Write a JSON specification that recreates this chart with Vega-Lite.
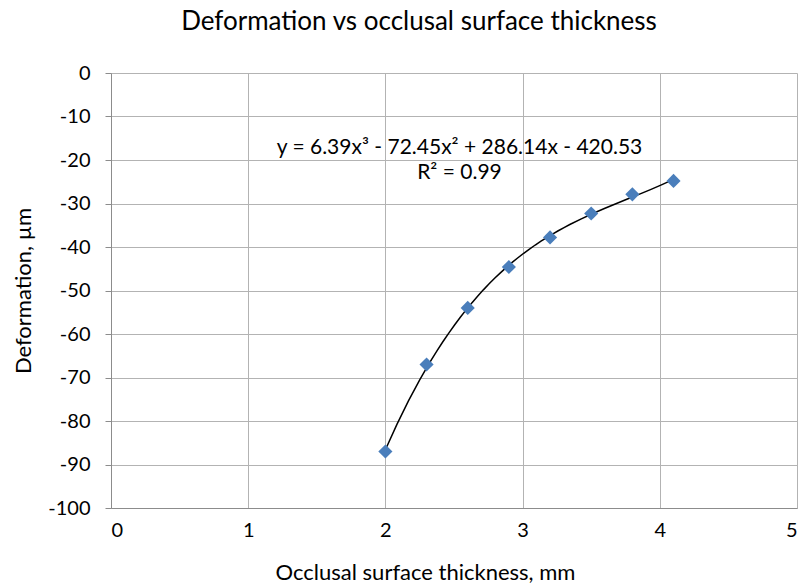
{
  "$schema": "https://vega.github.io/schema/vega-lite/v6.json",
  "width": 686,
  "height": 435,
  "autosize": {"type": "none"},
  "padding": {"left": 111, "top": 73, "right": 11, "bottom": 80},
  "background": "white",
  "title": {
    "text": "Deformation vs occlusal surface thickness",
    "font": "Lato",
    "fontSize": 26,
    "fontWeight": "normal",
    "color": "#000000",
    "anchor": "middle",
    "dx": -35,
    "offset": 28
  },
  "config": {
    "view": {"stroke": null},
    "axis": {
      "labelFont": "Lato",
      "titleFont": "Lato",
      "labelFontSize": 20,
      "titleFontSize": 22,
      "titleFontWeight": "normal",
      "labelColor": "#000000",
      "titleColor": "#000000",
      "gridColor": "#b3b3b3",
      "gridOpacity": 1,
      "domainColor": "#8c8c8c",
      "tickColor": "#8c8c8c"
    }
  },
  "data": {
    "values": [
      {"thickness": 2.0, "deformation": -87},
      {"thickness": 2.3, "deformation": -67},
      {"thickness": 2.6, "deformation": -54},
      {"thickness": 2.9, "deformation": -44.6},
      {"thickness": 3.2, "deformation": -37.8},
      {"thickness": 3.5, "deformation": -32.3},
      {"thickness": 3.8, "deformation": -27.9},
      {"thickness": 4.1, "deformation": -24.8}
    ]
  },
  "layer": [
    {
      "mark": {"type": "line", "color": "#000000", "strokeWidth": 1.5},
      "transform": [
        {"regression": "deformation", "on": "thickness", "method": "poly", "order": 3, "extent": [2, 4.1]}
      ],
      "encoding": {
        "x": {
          "field": "thickness", "type": "quantitative",
          "scale": {"domain": [0, 5], "nice": false},
          "axis": {
            "title": "Occlusal surface thickness, mm",
            "values": [0, 1, 2, 3, 4, 5],
            "labelExpr": "'' + datum.value",
            "ticks": false,
            "labelPadding": 12,
            "titlePadding": 22,
            "titleX": 314,
            "grid": true
          }
        },
        "y": {
          "field": "deformation", "type": "quantitative",
          "scale": {"domain": [-100, 0], "nice": false},
          "axis": {
            "title": "Deformation, µm",
            "values": [0, -10, -20, -30, -40, -50, -60, -70, -80, -90, -100],
            "labelExpr": "'' + datum.value",
            "tickSize": 6,
            "labelPadding": 15,
            "titlePadding": 12,
            "grid": true
          }
        }
      }
    },
    {
      "mark": {"type": "point", "shape": "diamond", "filled": true, "color": "#4a7ebb", "size": 200, "opacity": 1},
      "encoding": {
        "x": {"field": "thickness", "type": "quantitative"},
        "y": {"field": "deformation", "type": "quantitative"}
      }
    },
    {
      "data": {"values": [{"label": "y = 6.39x³ - 72.45x² + 286.14x - 420.53"}]},
      "mark": {"type": "text", "font": "Lato", "fontSize": 21, "color": "#000000", "align": "center", "baseline": "middle"},
      "encoding": {
        "text": {"field": "label"},
        "x": {"datum": 2.54},
        "y": {"datum": -17.2}
      }
    },
    {
      "data": {"values": [{"label": "R² = 0.99"}]},
      "mark": {"type": "text", "font": "Lato", "fontSize": 21, "color": "#000000", "align": "center", "baseline": "middle"},
      "encoding": {
        "text": {"field": "label"},
        "x": {"datum": 2.54},
        "y": {"datum": -23}
      }
    }
  ]
}
